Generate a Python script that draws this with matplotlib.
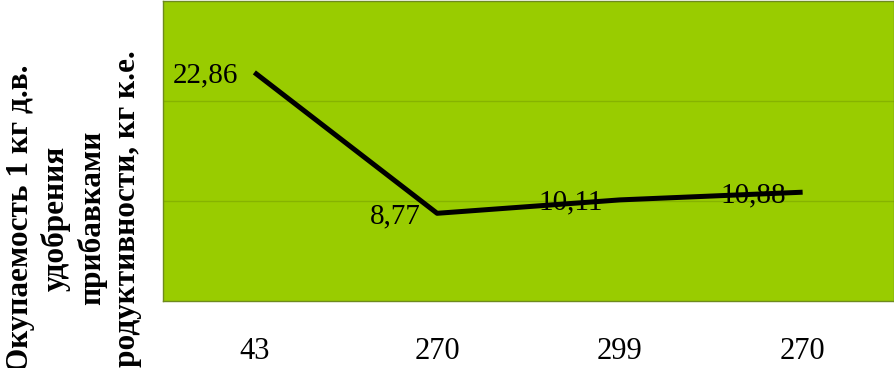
import matplotlib
matplotlib.use("Agg")
import matplotlib.pyplot as plt

# данные
categories = ["43", "270", "299", "270"]
values = [22.86, 8.77, 10.11, 10.88]
value_labels = ["22,86", "8,77", "10,11", "10,88"]
y_label = "Окупаемость 1 кг д.в.\nудобрения\nприбавками\nпродуктивности, кг к.е."

plt.rcParams['font.family'] = ['Liberation Serif', 'DejaVu Serif']

fig = plt.figure(figsize=(8.95, 3.68), dpi=100)
ax = fig.add_axes([163 / 895, 67 / 368, 731 / 895, 300 / 368])
ax.set_facecolor('#99CC00')

x = list(range(len(categories)))
ax.plot(x, values, color='black', linewidth=3.6, solid_capstyle='butt', zorder=3)

for xi, v, lab in zip(x, values, value_labels):
    ax.annotate(lab, xy=(xi, v), xytext=(-12, -2), textcoords='offset points',
                ha='right', va='center', fontsize=21, color='black', zorder=4)

ax.set_xlim(-0.5, len(categories) - 0.5)
ax.set_ylim(0, 30)
ax.set_yticks([10, 20])
ax.set_yticklabels([])
ax.yaxis.grid(True, color='#86B300', linewidth=1)
ax.set_axisbelow(True)
ax.tick_params(axis='y', length=0)
ax.set_xticks(x)
ax.set_xticklabels(categories, fontsize=22)
ax.tick_params(axis='x', length=0, pad=26)
for spine in ax.spines.values():
    spine.set_edgecolor('#6E8A1E')
    spine.set_linewidth(1)

# подпись оси Y (в оригинале обрезана снизу)
fig.text(74 / 895, 1 - 218 / 368, y_label, rotation=90, ha='center', va='center',
         multialignment='center', fontsize=22.5, fontweight='bold', linespacing=1.26)

fig.savefig("out.png", dpi=100, facecolor='white')
